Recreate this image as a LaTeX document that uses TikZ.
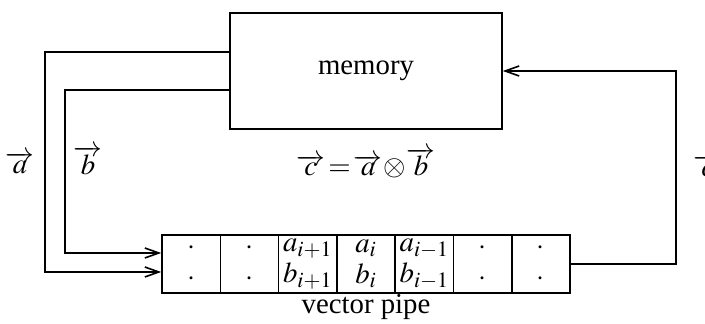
\documentclass[tikz,border=0pt,12pt]{standalone}
\usepackage{mathptmx}
\usepackage{fontspec}
\setmainfont{Liberation Serif}
\usetikzlibrary{arrows.meta,calc}
\tikzset{
  every node/.append style={font=\fontsize{14.4}{15.5}\selectfont},
  membox/.style={draw, line width=0.8pt, minimum width=136pt, minimum height=58pt},
  cellbox/.style={draw, line width=0.8pt, minimum width=29.15pt, minimum height=29pt, inner sep=0pt, align=center},
  conn/.style={line width=0.8pt, -{Straight Barb[length=7pt,width=5pt]}},
  lab/.style={inner sep=0pt},
}

\begin{document}
\begin{tikzpicture}[x=0.5pt, y=-0.5pt]
 \useasboundingbox (0,0) rectangle (705,324);
 \node[membox] (memory) at (366,71) {memory};
 \foreach \i/\txt in {1/{$\cdot$\\$\cdot$}, 2/{$\cdot$\\$\cdot$},
     3/{$a_{i+1}$\\$b_{i+1}$}, 4/{$a_i$\\$b_i$}, 5/{$a_{i-1}$\\$b_{i-1}$},
     6/{$\cdot$\\$\cdot$}, 7/{$\cdot$\\$\cdot$}}{
   \node[cellbox] (cell\i) at ({191.15+58.3*(\i-1)},264) {\txt};}
 \node[lab] (pipelab) at (366,307) {vector pipe};
 % operands out of memory, result back in
 \draw[conn] ($(memory.west)+(0,-19)$) -- ++(-184,0) |- ($(cell1.west)+(0,8)$);
 \draw[conn] ($(memory.west)+(0,19)$) -- ++(-164,0) |- ($(cell1.west)+(0,-11)$);
 \draw[conn] (cell7.east) -- ++(105,0) |- (memory.east);
 \node[lab] (alab) at (20,163) {$\overrightarrow{a}$};
 \node[lab] (blab) at (88,160) {$\overrightarrow{b}$};
 \node[lab] (eqlab) at (366,163) {$\overrightarrow{c}\!=\!\overrightarrow{a}\!\otimes\!\overrightarrow{b}$};
 \node[lab, anchor=west] (clab) at (693,166) {$\overrightarrow{c}$};
\end{tikzpicture}
\end{document}
